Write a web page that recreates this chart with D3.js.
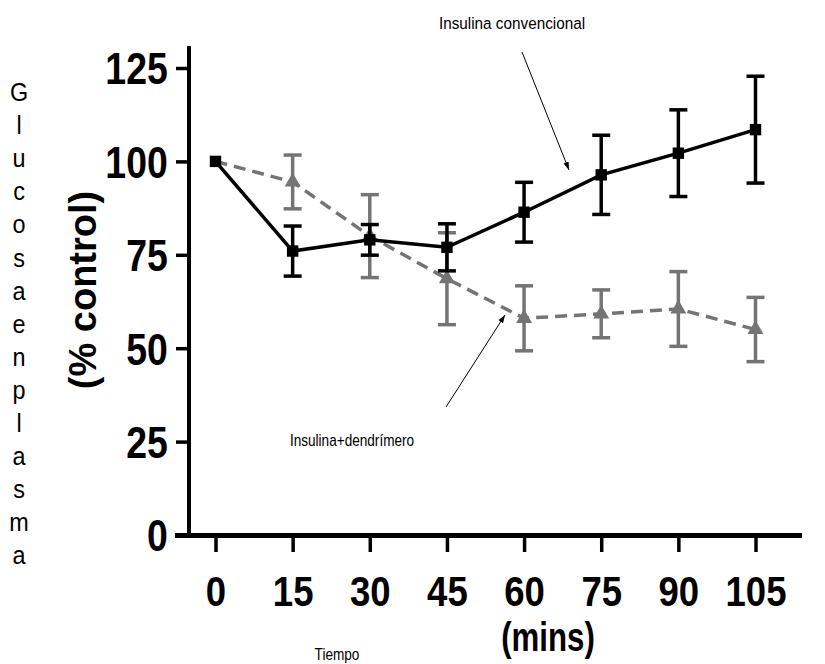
<!DOCTYPE html>
<html><head><meta charset="utf-8">
<script src="https://cdn.jsdelivr.net/npm/d3@7"></script>
<style>body{margin:0;background:#fff}svg{display:block}</style>
</head><body>
<script>
const times = [0, 15, 30, 45, 60, 75, 90, 105];
const convMean = [100, 76, 79, 77, 86.4, 96.4, 102.2, 108.5];
const convErr  = [0, 6.7, 4.1, 6.3, 8.0, 10.6, 11.6, 14.3];
const dendMean = [100, 94.5, 80, 68.6, 58, 59.2, 60.5, 55];
const dendErr  = [0, 7.2, 11.1, 12.3, 8.7, 6.4, 10.0, 8.6];
const yTicks = [0, 25, 50, 75, 100, 125];
const letters = ["G","l","u","c","o","s","a","e","n","p","l","a","s","m","a"];

const W = 825, H = 664;
const svg = d3.select("body").append("svg").attr("width", W).attr("height", H);
const x = d3.scaleLinear().domain([0, 105]).range([215.5, 755.5]);
const y = d3.scaleLinear().domain([0, 125]).range([535, 68]);

const ff = "'Liberation Sans',Arial,sans-serif";
const SX = 0.85;

// axes
svg.append("line").attr("x1", 189).attr("x2", 189).attr("y1", 46).attr("y2", 537)
  .attr("stroke", "#000").attr("stroke-width", 4);
svg.append("line").attr("x1", 175).attr("x2", 802).attr("y1", 535.5).attr("y2", 535.5)
  .attr("stroke", "#000").attr("stroke-width", 5);

const yAxis = d3.axisLeft(y).tickValues(yTicks).tickSize(13).tickPadding(12);
const gy = svg.append("g").attr("transform", "translate(189,0)").call(yAxis);
gy.select(".domain").remove();
gy.selectAll(".tick line").attr("stroke", "#000").attr("stroke-width", 3.5);
gy.selectAll(".tick text").attr("font-family", ff).attr("font-weight", "bold")
  .attr("font-size", 44).attr("fill", "#000").attr("dy", "0.36em")
  .attr("transform", `scale(${SX},1)`);

const xAxis = d3.axisBottom(x).tickValues(times).tickSize(16).tickPadding(23);
const gx = svg.append("g").attr("transform", "translate(0,536)").call(xAxis);
gx.select(".domain").remove();
gx.selectAll(".tick line").attr("stroke", "#000").attr("stroke-width", 3.5);
gx.selectAll(".tick text").attr("font-family", ff).attr("font-weight", "bold")
  .attr("font-size", 43).attr("fill", "#000")
  .attr("transform", `scale(${SX},1)`);

// titles
svg.append("text").attr("transform", "translate(96,290) rotate(-90)")
  .attr("text-anchor", "middle").attr("font-family", ff)
  .attr("font-weight", "bold").attr("font-size", 38).text("(% control)");
svg.append("text").attr("transform", "translate(548,651) scale(0.78,1)").attr("text-anchor", "middle")
  .attr("font-family", ff).attr("font-weight", "bold").attr("font-size", 40).text("(mins)");
svg.append("text").attr("transform", "translate(337,660) scale(0.85,1)").attr("text-anchor", "middle")
  .attr("font-family", ff).attr("font-size", 16).text("Tiempo");
svg.append("g").selectAll("text").data(letters).join("text")
  .attr("transform", (d, i) => `translate(19,${101 + i * 33.1}) scale(0.9,1)`)
  .attr("text-anchor", "middle")
  .attr("font-family", ff).attr("font-size", 26)
  .text(d => d);

// series
function drawSeries(means, errs, color, dash, marker, msize) {
  const g = svg.append("g");
  const data = times.map((t, i) => ({t, m: means[i], e: errs[i], i}));
  g.append("path").datum(data)
    .attr("d", d3.line().x(d => x(d.t)).y(d => y(d.m)))
    .attr("fill", "none").attr("stroke", color).attr("stroke-width", 3.5)
    .attr("stroke-dasharray", dash);
  const eb = data.filter(d => d.e > 0);
  g.selectAll(".v").data(eb).join("line")
    .attr("x1", d => x(d.t)).attr("x2", d => x(d.t))
    .attr("y1", d => y(d.m + d.e)).attr("y2", d => y(d.m - d.e))
    .attr("stroke", color).attr("stroke-width", 3.5);
  [1, -1].forEach(s => {
    g.selectAll(".c" + s).data(eb).join("line")
      .attr("x1", d => x(d.t) - 9).attr("x2", d => x(d.t) + 9)
      .attr("y1", d => y(d.m + s * d.e)).attr("y2", d => y(d.m + s * d.e))
      .attr("stroke", color).attr("stroke-width", 3.5);
  });
  g.selectAll(".m").data(data).join("path")
    .attr("transform", d => `translate(${x(d.t)},${y(d.m)})`)
    .attr("d", d => d3.symbol().type(marker(d.i)).size(msize)())
    .attr("fill", color);
}
drawSeries(dendMean, dendErr, "#747474", "12,7", i => i === 0 ? d3.symbolSquare : d3.symbolTriangle, 110);
drawSeries(convMean, convErr, "#000", null, () => d3.symbolSquare, 130);

// annotations
const defs = svg.append("defs");
defs.append("marker").attr("id", "ah").attr("viewBox", "0 0 10 10").attr("refX", 10).attr("refY", 5)
  .attr("markerWidth", 8).attr("markerHeight", 8).attr("orient", "auto")
  .append("path").attr("d", "M0,1.5L10,5L0,8.5Z").attr("fill", "#000");
svg.append("line").attr("x1", 522).attr("y1", 52).attr("x2", 569).attr("y2", 170)
  .attr("stroke", "#000").attr("stroke-width", 1).attr("marker-end", "url(#ah)");
svg.append("line").attr("x1", 446).attr("y1", 407).attr("x2", 505).attr("y2", 315)
  .attr("stroke", "#000").attr("stroke-width", 1).attr("marker-end", "url(#ah)");
svg.append("text").attr("transform", "translate(512,29) scale(0.9,1)").attr("text-anchor", "middle")
  .attr("font-family", ff).attr("font-size", 17).text("Insulina convencional");
svg.append("text").attr("transform", "translate(352,446) scale(0.85,1)").attr("text-anchor", "middle")
  .attr("font-family", ff).attr("font-size", 16).text("Insulina+dendrímero");
</script>
</body></html>
